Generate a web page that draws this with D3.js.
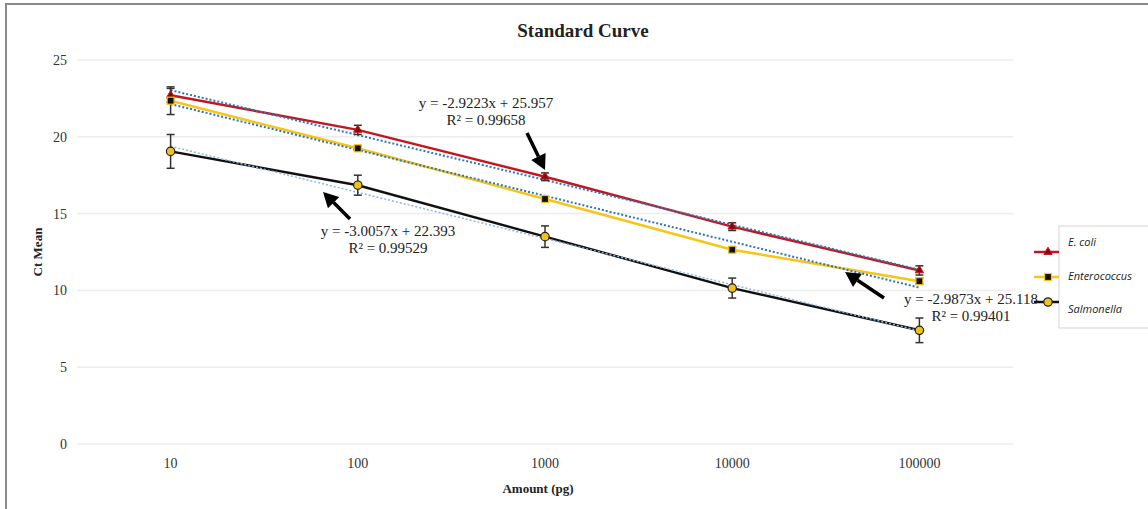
<!DOCTYPE html>
<html>
<head>
<meta charset="utf-8">
<script src="https://cdn.jsdelivr.net/npm/d3@7"></script>
<style>
  body { margin: 0; background: #fff; }
  svg { display: block; }
</style>
</head>
<body>
<div id="chart"></div>
<script>
// -- data
var amounts = ["10", "100", "1000", "10000", "100000"];
var yTicks = [0, 5, 10, 15, 20, 25];
var seriesNames = ["E. coli", "Enterococcus", "Salmonella"];
var ecoliCt = [22.7, 20.45, 17.4, 14.15, 11.3];
var ecoliErr = [0.45, 0.3, 0.25, 0.25, 0.3];
var enteroCt = [22.35, 19.25, 15.95, 12.65, 10.6];
var enteroErr = [0.9, 0.15, 0.15, 0.15, 0.2];
var salmoCt = [19.05, 16.85, 13.5, 10.15, 7.4];
var salmoErr = [1.1, 0.65, 0.7, 0.65, 0.8];
// trendline fits (x = 1..5)
var slopes = [-2.9223, -2.9873, -3.0057];
var intercepts = [25.957, 25.118, 22.393];
var rSquared = ["0.99658", "0.99401", "0.99529"];

var W = 1148, H = 509;
var svg = d3.select("#chart").append("svg").attr("width", W).attr("height", H);

// outer frame
svg.append("rect").attr("x", 6).attr("y", 4).attr("width", W + 10).attr("height", H + 10)
  .attr("fill", "#fff").attr("stroke", "#8a8a8a").attr("stroke-width", 2);

var plot = {left: 77, right: 1013, top: 60, bottom: 444};

var x = d3.scaleBand().domain(amounts).range([plot.left, plot.right]);
var y = d3.scaleLinear().domain([0, 25]).range([plot.bottom, plot.top]);
var cx = function (a) { return x(a) + x.bandwidth() / 2; };

// gridlines
svg.append("g").selectAll("line").data(yTicks).join("line")
  .attr("x1", plot.left).attr("x2", plot.right)
  .attr("y1", function (d) { return y(d); }).attr("y2", function (d) { return y(d); })
  .attr("stroke", "#ececec").attr("stroke-width", 1.5);

// axes (labels only)
var yAxis = svg.append("g").attr("transform", "translate(" + plot.left + ",0)")
  .call(d3.axisLeft(y).tickValues(yTicks).tickSize(0).tickPadding(10));
var xAxis = svg.append("g").attr("transform", "translate(0," + plot.bottom + ")")
  .call(d3.axisBottom(x).tickSize(0).tickPadding(14));
[yAxis, xAxis].forEach(function (a) {
  a.select(".domain").remove();
  a.selectAll("text").attr("font-family", "Liberation Serif").attr("font-size", 14).attr("fill", "#333");
});

// titles
svg.append("text").attr("x", 583).attr("y", 37).attr("text-anchor", "middle")
  .attr("font-family", "Liberation Serif").attr("font-weight", "bold").attr("font-size", 19)
  .attr("fill", "#222").text("Standard Curve");
svg.append("text").attr("x", 538).attr("y", 493).attr("text-anchor", "middle")
  .attr("font-family", "Liberation Serif").attr("font-weight", "bold").attr("font-size", 13)
  .attr("fill", "#222").text("Amount (pg)");
svg.append("text").attr("transform", "translate(42,252) rotate(-90)").attr("text-anchor", "middle")
  .attr("font-family", "Liberation Serif").attr("font-weight", "bold").attr("font-size", 13)
  .attr("fill", "#222").text("Ct Mean");

var series = [
  {name: seriesNames[0], ct: ecoliCt, err: ecoliErr, color: "#c4161c", trend: "#2f74b5", tw: 2},
  {name: seriesNames[1], ct: enteroCt, err: enteroErr, color: "#f7c418", trend: "#2f74b5", tw: 2},
  {name: seriesNames[2], ct: salmoCt, err: salmoErr, color: "#111111", trend: "#8fb6de", tw: 1.5}
];
series.forEach(function (s, i) {
  s.points = amounts.map(function (a, j) { return {a: a, v: s.ct[j], e: s.err[j]}; });
  s.slope = slopes[i]; s.intercept = intercepts[i];
});

var line = d3.line().x(function (d) { return cx(d.a); }).y(function (d) { return y(d.v); });

// series lines
svg.append("g").selectAll("path").data(series).join("path")
  .attr("d", function (s) { return line(s.points); })
  .attr("fill", "none").attr("stroke", function (s) { return s.color; }).attr("stroke-width", 2.5);

// trendlines
svg.append("g").selectAll("line").data(series).join("line")
  .attr("x1", cx(amounts[0])).attr("x2", cx(amounts[amounts.length - 1]))
  .attr("y1", function (s) { return y(s.slope * 1 + s.intercept); })
  .attr("y2", function (s) { return y(s.slope * amounts.length + s.intercept); })
  .attr("stroke", function (s) { return s.trend; }).attr("stroke-width", function (s) { return s.tw; })
  .attr("stroke-dasharray", "2,2");

// error bars
var eb = svg.append("g").attr("stroke", "#333").attr("stroke-width", 1.5);
series.forEach(function (s) {
  s.points.forEach(function (p) {
    var xx = cx(p.a), y0 = y(p.v - p.e), y1 = y(p.v + p.e);
    eb.append("line").attr("x1", xx).attr("x2", xx).attr("y1", y0).attr("y2", y1);
    eb.append("line").attr("x1", xx - 4).attr("x2", xx + 4).attr("y1", y0).attr("y2", y0);
    eb.append("line").attr("x1", xx - 4).attr("x2", xx + 4).attr("y1", y1).attr("y2", y1);
  });
});

// markers
function drawMarker(g, i, px, py) {
  if (i === 0) {
    g.append("path").attr("d", d3.symbol(d3.symbolTriangle, 30)())
      .attr("transform", "translate(" + px + "," + py + ")")
      .attr("fill", "#7a0d12").attr("stroke", "#c4161c").attr("stroke-width", 1);
  } else if (i === 1) {
    g.append("rect").attr("x", px - 3.5).attr("y", py - 3.5).attr("width", 7).attr("height", 7)
      .attr("fill", "#111").attr("stroke", "#f7c418").attr("stroke-width", 1.2);
  } else {
    g.append("circle").attr("cx", px).attr("cy", py).attr("r", 4.2)
      .attr("fill", "#f2c21b").attr("stroke", "#222").attr("stroke-width", 1.2);
  }
}
var mk = svg.append("g");
series.forEach(function (s, i) {
  s.points.forEach(function (p) { drawMarker(mk, i, cx(p.a), y(p.v)); });
});

// equation annotations with arrows
var notes = [
  {i: 0, tx: 486, ty: 108, from: [527, 133], to: [545, 170]},
  {i: 2, tx: 388, ty: 236, from: [350, 219], to: [323, 192]},
  {i: 1, tx: 971, ty: 304, from: [884, 298], to: [845, 272]}
];
var ann = svg.append("g").attr("font-family", "Liberation Serif").attr("font-size", 15).attr("fill", "#222");
notes.forEach(function (n) {
  var s = series[n.i];
  ann.append("text").attr("x", n.tx).attr("y", n.ty).attr("text-anchor", "middle")
    .text("y = " + s.slope + "x + " + s.intercept);
  ann.append("text").attr("x", n.tx).attr("y", n.ty + 17).attr("text-anchor", "middle")
    .text("R\u00b2 = " + rSquared[n.i]);
  var dx = n.to[0] - n.from[0], dy = n.to[1] - n.from[1];
  var len = Math.sqrt(dx * dx + dy * dy), ux = dx / len, uy = dy / len;
  var hl = 15, hw = 8;
  var bx = n.to[0] - ux * hl, by = n.to[1] - uy * hl;
  svg.append("line").attr("x1", n.from[0]).attr("y1", n.from[1]).attr("x2", bx).attr("y2", by)
    .attr("stroke", "#000").attr("stroke-width", 3.5);
  svg.append("path").attr("fill", "#000")
    .attr("d", "M" + n.to[0] + "," + n.to[1] + "L" + (bx - uy * hw) + "," + (by + ux * hw) +
      "L" + (bx + uy * hw) + "," + (by - ux * hw) + "Z");
});

// legend
var lg = svg.append("g");
lg.append("rect").attr("x", 1059).attr("y", 226).attr("width", 120).attr("height", 102)
  .attr("fill", "#fff").attr("stroke", "#d5d5d5").attr("stroke-width", 1);
var legendRows = [{my: 252, ty: 246}, {my: 277, ty: 280}, {my: 302, ty: 313}];
series.forEach(function (s, i) {
  var r = legendRows[i];
  lg.append("line").attr("x1", 1034).attr("x2", 1059).attr("y1", r.my).attr("y2", r.my)
    .attr("stroke", s.color).attr("stroke-width", 2.5);
  drawMarker(lg, i, 1048, r.my);
  lg.append("text").attr("x", 1068).attr("y", r.ty)
    .attr("font-family", "Open Sans").attr("font-style", "italic").attr("font-size", 11)
    .attr("fill", "#222").text(s.name);
});
</script>
</body>
</html>
